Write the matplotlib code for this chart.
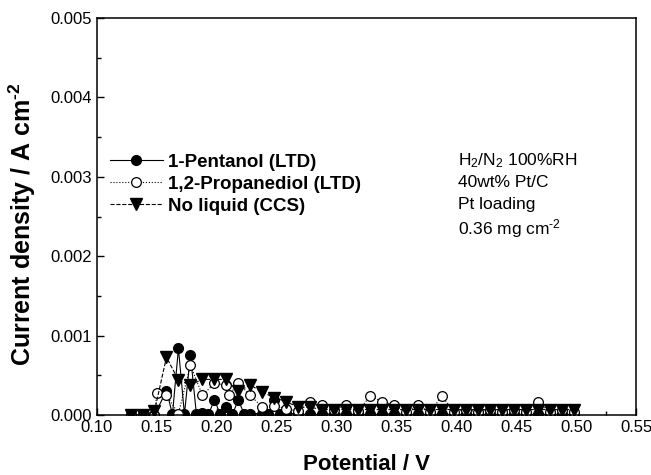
import matplotlib
matplotlib.use("Agg")
import matplotlib.pyplot as plt
from matplotlib.ticker import MultipleLocator, FormatStrFormatter

plt.rcParams['font.family'] = ['Liberation Sans', 'DejaVu Sans']
plt.rcParams['mathtext.fontset'] = 'custom'
plt.rcParams['mathtext.rm'] = 'Liberation Sans'
plt.rcParams['mathtext.bf'] = 'Liberation Sans:bold'
plt.rcParams['mathtext.it'] = 'Liberation Sans:italic'

# 1-Pentanol (LTD)
pent_x = [0.128, 0.138, 0.148, 0.158, 0.163, 0.168, 0.173, 0.178, 0.183, 0.188,
          0.193, 0.198, 0.203, 0.208, 0.213, 0.218, 0.223, 0.228, 0.238, 0.243,
          0.248, 0.253, 0.258, 0.268, 0.278, 0.288, 0.298, 0.308, 0.318, 0.328,
          0.338, 0.348, 0.358, 0.368, 0.378, 0.388, 0.398, 0.408, 0.418, 0.428,
          0.438, 0.448, 0.458, 0.468, 0.478, 0.488, 0.498]
pent_y = [0.0, 0.0, 0.0, 0.00031, 0.00001, 0.00084, 0.00001, 0.00076, 0.00001, 0.00003,
          0.00001, 0.00019, 0.00001, 0.00010, 0.00001, 0.00019, 0.00001, 0.00002, 0.00002, 0.00001,
          0.00019, 0.00001, 0.00003, 0.00001, 0.00001, 0.00001, 0.00002, 0.00001, 0.00001, 0.00001,
          0.00001, 0.00002, 0.00001, 0.00001, 0.00001, 0.00001, 0.00001, 0.00001, 0.00001, 0.00001,
          0.00001, 0.00001, 0.00001, 0.00001, 0.00001, 0.00001, 0.00001]

# 1,2-Propanediol (LTD)
prop_x = [0.128, 0.138, 0.148, 0.150, 0.158, 0.168, 0.178, 0.188, 0.198, 0.208,
          0.210, 0.218, 0.228, 0.238, 0.248, 0.258, 0.268, 0.278, 0.288, 0.298,
          0.308, 0.318, 0.328, 0.338, 0.348, 0.358, 0.368, 0.378, 0.388, 0.398,
          0.408, 0.418, 0.428, 0.438, 0.448, 0.458, 0.468, 0.478, 0.488, 0.498]
prop_y = [0.0, 0.0, 0.0, 0.00028, 0.00025, 0.00002, 0.00063, 0.00025, 0.00040, 0.00038,
          0.00025, 0.00040, 0.00025, 0.00010, 0.00012, 0.00008, 0.00005, 0.00017, 0.00013, 0.00007,
          0.00013, 0.00005, 0.00024, 0.00017, 0.00013, 0.00004, 0.00013, 0.00004, 0.00024, 0.00004,
          0.00007, 0.00004, 0.00007, 0.00004, 0.00007, 0.00004, 0.00017, 0.00004, 0.00007, 0.00004]

# No liquid (CCS)
ccs_x = [0.128, 0.138, 0.148, 0.158, 0.168, 0.178, 0.188, 0.198, 0.208, 0.218,
         0.228, 0.238, 0.248, 0.258, 0.268, 0.278, 0.288, 0.298, 0.308, 0.318,
         0.328, 0.338, 0.348, 0.358, 0.368, 0.378, 0.388, 0.398, 0.408, 0.418,
         0.428, 0.438, 0.448, 0.458, 0.468, 0.478, 0.488, 0.498]
ccs_y = [0.0, 0.0, 0.00005, 0.00073, 0.00044, 0.00038, 0.00045, 0.00045, 0.00045, 0.00030,
         0.00038, 0.00029, 0.00022, 0.00017, 0.00010, 0.00010, 0.00007, 0.00007, 0.00007, 0.00007,
         0.00007, 0.00007, 0.00007, 0.00007, 0.00007, 0.00007, 0.00007, 0.00007, 0.00007, 0.00007,
         0.00007, 0.00007, 0.00007, 0.00007, 0.00007, 0.00007, 0.00007, 0.00007]

labels = ["1-Pentanol (LTD)", "1,2-Propanediol (LTD)", "No liquid (CCS)"]
notes = ["H$_2$/N$_2$ 100%RH", "40wt% Pt/C", "Pt loading", "0.36 mg cm$^{\\mathregular{\u2010}2}$"]

fig = plt.figure(figsize=(6.51, 4.75), dpi=100)
ax = fig.add_axes([0.149, 0.126, 0.828, 0.836])

ms = 7
ax.plot(pent_x, pent_y, '-', color='black', lw=0.8, marker='o', ms=ms,
        mfc='black', mec='black', label=labels[0])
ax.plot(prop_x, prop_y, ':', color='black', lw=0.8, marker='o', ms=ms,
        mfc='white', mec='black', mew=0.9, label=labels[1])
ax.plot(ccs_x, ccs_y, '--', color='black', lw=0.8, marker='v', ms=ms + 1,
        mfc='black', mec='black', label=labels[2])

ax.set_xlim(0.10, 0.55)
ax.set_ylim(0.0, 0.005)
ax.xaxis.set_major_locator(MultipleLocator(0.05))
ax.xaxis.set_minor_locator(MultipleLocator(0.025))
ax.yaxis.set_major_locator(MultipleLocator(0.001))
ax.yaxis.set_minor_locator(MultipleLocator(0.0005))
ax.xaxis.set_major_formatter(FormatStrFormatter('%.2f'))
ax.yaxis.set_major_formatter(FormatStrFormatter('%.3f'))
ax.tick_params(which='both', direction='in', top=False, right=False, labelsize=12)
ax.tick_params(which='major', length=5, width=1)
ax.tick_params(which='minor', length=3, width=1)
for s in ax.spines.values():
    s.set_linewidth(1.1)

ax.set_xlabel("Potential / V", fontsize=16, fontweight='bold', labelpad=14)
ax.set_ylabel("Current density / A cm$^{\\mathbf{\u2010}\\mathbf{2}}$", fontsize=18,
              fontweight='bold')
ax.yaxis.set_label_coords(-0.110, 0.48)

leg = ax.legend(loc='upper left', bbox_to_anchor=(0.0, 0.691), frameon=False,
                prop={'weight': 'bold', 'size': 13.5}, handlelength=2.8,
                handletextpad=0.3, labelspacing=0.25, borderaxespad=0.3)

ny = [0.642, 0.587, 0.531, 0.471]
for t, y in zip(notes, ny):
    ax.text(0.67, y, t, transform=ax.transAxes, fontsize=12.5, va='center', ha='left')

fig.savefig("out.png", dpi=100)
